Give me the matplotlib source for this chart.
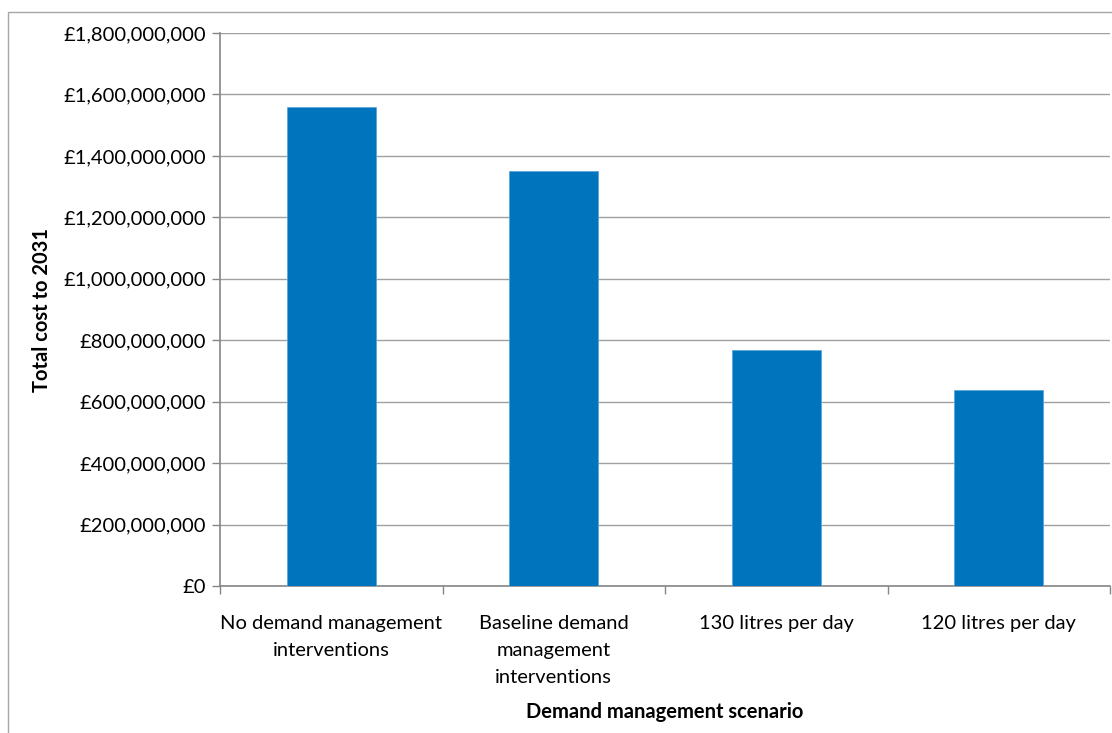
import matplotlib
matplotlib.use("Agg")
import matplotlib.pyplot as plt
from matplotlib.patches import Rectangle
from matplotlib.ticker import FuncFormatter, MultipleLocator

plt.rcParams['font.family'] = ['Lato', 'DejaVu Sans']

scenarios = [
    "No demand management\ninterventions",
    "Baseline demand\nmanagement\ninterventions",
    "130 litres per day",
    "120 litres per day",
]
total_cost = [1_560_000_000, 1_350_000_000, 768_000_000, 638_000_000]

W, H = 1112, 733
fig = plt.figure(figsize=(W / 100, H / 100), dpi=100)
fig.patch.set_facecolor("white")

# outer chart-area frame
fig.add_artist(Rectangle((8 / W, -0.05), 1.2, 1 - 12 / H + 0.05,
                         transform=fig.transFigure, fill=False,
                         edgecolor="#A6A6A6", linewidth=1.0))

ax = fig.add_axes([220 / W, 1 - 586 / H, (1110 - 220) / W, (586 - 33) / H])
x = range(len(scenarios))
ax.bar(x, total_cost, width=0.4, color="#0075BD", edgecolor="#5AA7DB",
       linewidth=0.6, zorder=3)

ax.set_xlim(-0.5, len(scenarios) - 0.5)
ax.set_ylim(0, 1_800_000_000)
ax.yaxis.set_major_locator(MultipleLocator(200_000_000))
ax.yaxis.set_major_formatter(FuncFormatter(lambda v, p: "£0" if v == 0 else f"£{v:,.0f}"))
ax.grid(axis="y", color="#A0A0A0", linewidth=1.0, zorder=0)
ax.set_axisbelow(True)

for s in ("top", "right"):
    ax.spines[s].set_visible(False)
for s in ("left", "bottom"):
    ax.spines[s].set_color("#868686")
    ax.spines[s].set_linewidth(1.2)

ax.tick_params(axis="y", length=6, width=1, color="#868686", labelsize=14.5,
               pad=4, labelcolor="black")
# category ticks sit between the bars
ax.set_xticks([i - 0.5 for i in range(len(scenarios) + 1)], minor=False)
ax.set_xticklabels([])
ax.tick_params(axis="x", which="major", length=6, width=1, color="#868686")
ax.set_xticks(list(x), minor=True)
ax.set_xticklabels(scenarios, minor=True, fontsize=14.5, linespacing=1.72)
ax.tick_params(axis="x", which="minor", length=0, pad=21)
for lbl in ax.get_xticklabels(minor=True):
    lbl.set_verticalalignment("top")

fig.text(42 / W, 1 - 310 / H, "Total cost to 2031", rotation=90, ha="center",
         va="center", fontsize=14.5, fontweight="bold")
fig.text(665 / W, 1 - 712 / H, "Demand management scenario", ha="center",
         va="center", fontsize=14.5, fontweight="bold")

fig.savefig("out.png", dpi=100, facecolor="white")
